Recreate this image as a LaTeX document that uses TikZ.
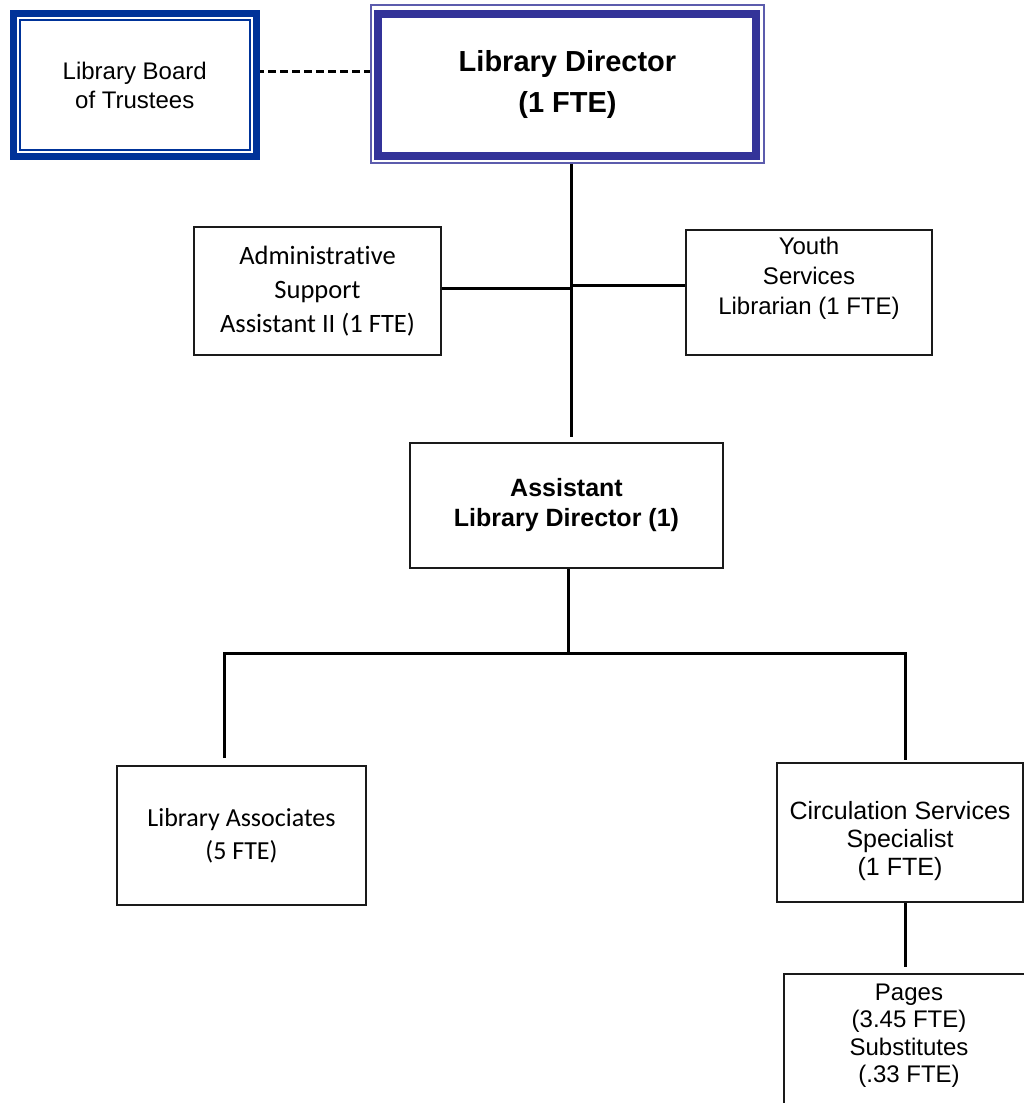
\documentclass[tikz,border=0pt]{standalone}
\usepackage{fontspec}
\setmainfont{Liberation Sans}
\newfontfamily\carlito[Ligatures=NoCommon]{Carlito}
\definecolor{boardblue}{HTML}{003399}
\definecolor{dirblue}{HTML}{333399}
\definecolor{dirthin}{HTML}{5C5CAD}
\definecolor{boxline}{HTML}{1A1A1A}
\pgfdeclarelayer{background}
\pgfsetlayers{background,main}
\begin{document}
\begin{tikzpicture}[x=1pt,y=-1pt,
  box/.style={draw=boxline, line width=2.4pt, fill=white, outer sep=0pt,
    inner sep=0pt, align=center},
  conn/.style={line width=3pt, black},
  dashline/.style={line width=3pt, black, dash pattern=on 8pt off 4pt}]
\useasboundingbox (0,0) rectangle (1024,1103);

% board of trustees: thick outer band with a thin inner rule
\node[box, draw=boardblue, line width=7pt, minimum width=242.5pt,
  minimum height=143pt, font=\fontsize{24}{29}\selectfont]
  (board) at (134.75,85) {Library Board\\of Trustees};
\draw[boardblue, line width=2pt]
  ([shift={(6.5pt,-6.5pt)}]board.north west) rectangle
  ([shift={(-6.5pt,6.5pt)}]board.south east);

% library director: thin outer rule with a thick inner band
\node[box, draw=dirthin, line width=1.6pt, minimum width=393pt,
  minimum height=158pt, font=\bfseries\fontsize{29}{41}\selectfont]
  (director) at (567.5,84) {Library Director\\(1 FTE)};
\draw[dirblue, line width=8pt]
  ([shift={(7pt,-9pt)}]director.north west) rectangle
  ([shift={(-8pt,7pt)}]director.south east);

% second row
\node[box, minimum width=247pt, minimum height=128pt,
  font=\carlito\fontsize{26.5}{34}\selectfont]
  (admin) at (317.5,291) {Administrative\\Support\\Assistant II (1 FTE)};
\node[box, minimum width=246pt, minimum height=125pt,
  label={[name=youth-text, align=center, font=\fontsize{24}{30}\selectfont,
    yshift=14.5pt]center:{Youth\\Services\\Librarian (1 FTE)}}]
  (youth) at (809,292.5) {};

% assistant director
\node[box, minimum width=313pt, minimum height=125pt,
  font=\bfseries\fontsize{25}{30}\selectfont]
  (asst) at (566.5,505.5) {Assistant\\Library Director (1)};

% third row
\node[box, minimum width=249pt, minimum height=139pt,
  font=\carlito\fontsize{26}{33}\selectfont]
  (assoc) at (241.5,835.5) {Library Associates\\(5 FTE)};
\node[box, minimum width=246pt, minimum height=139pt,
  label={[name=circ-text, align=center, font=\fontsize{25}{28}\selectfont,
    yshift=-8.5pt]center:{Circulation Services\\Specialist\\(1 FTE)}}]
  (circ) at (900,832.5) {};
\node[box, minimum width=250pt, minimum height=141pt,
  label={[name=pages-text, align=center, font=\fontsize{24}{27.5}\selectfont,
    yshift=9pt]center:{Pages\\(3.45 FTE)\\Substitutes\\(.33 FTE)}}]
  (pages) at (909,1044.5) {};

% connector end points
\coordinate (dash-start) at ([yshift=14pt]board.east);
\coordinate (spine-end) at ([xshift=5pt,yshift=6pt]asst.north);
\coordinate (admin-out) at ([yshift=3pt]admin.east);
\coordinate (youth-in) at ([yshift=7.5pt]youth.west);
\coordinate (bus) at ([xshift=1.5pt,yshift=-85pt]asst.south);
\coordinate (assoc-in) at ([xshift=-17.5pt,yshift=8pt]assoc.north);
\coordinate (circ-in) at ([xshift=5pt,yshift=3pt]circ.north);
\coordinate (pages-in) at ([xshift=-4pt,yshift=7pt]pages.north);

\begin{pgfonlayer}{background}
  \draw[dashline] (dash-start) -- (dash-start -| director.west);
  \draw[conn] (director.south -| spine-end) -- (spine-end);
  \draw[conn] (admin-out) -- (admin-out -| spine-end);
  \draw[conn] (youth-in) -- (youth-in -| spine-end);
  \draw[conn] (asst.south -| bus) -- (bus);
  \draw[conn, line join=miter] (assoc-in) |- (bus) -| (circ-in);
  \draw[conn] (circ.south -| pages-in) -- (pages-in);
\end{pgfonlayer}
\end{tikzpicture}
\end{document}
